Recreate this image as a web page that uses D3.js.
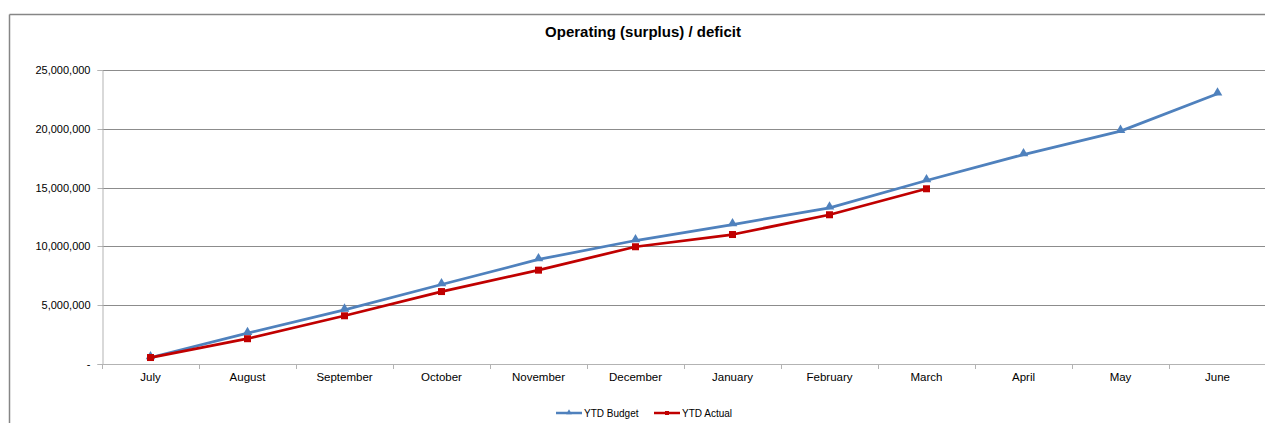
<!DOCTYPE html>
<html><head><meta charset="utf-8">
<script src="https://cdn.jsdelivr.net/npm/d3@7"></script>
<style>body{margin:0;background:#fff;}svg{display:block;font-family:"Liberation Sans",Arial,sans-serif;}</style>
</head><body>
<svg id="c" width="1265" height="423"></svg>
<script>
const months = ["July","August","September","October","November","December","January","February","March","April","May","June"];
const budget = [550000, 2620000, 4600000, 6760000, 8890000, 10500000, 11860000, 13280000, 15600000, 17810000, 19800000, 22980000];
const actual = [550000, 2150000, 4100000, 6160000, 7980000, 9970000, 11010000, 12690000, 14900000];
const yTicks = [0, 5000000, 10000000, 15000000, 20000000, 25000000];
const title = "Operating (surplus) / deficit";
const seriesNames = ["YTD Budget", "YTD Actual"];

const svg = d3.select("#c");
const L = 102, R = 1266, T = 70, B = 364;

// outer frame
svg.append("line").attr("x1",9.5).attr("x2",1265).attr("y1",14.5).attr("y2",14.5).attr("stroke","#868686").attr("stroke-width",1.5);
svg.append("line").attr("x1",9.5).attr("x2",9.5).attr("y1",14.5).attr("y2",423).attr("stroke","#868686").attr("stroke-width",1.5);

const x = d3.scaleBand().domain(months).range([L, R]);
const y = d3.scaleLinear().domain([0, 25000000]).range([B, T]);

// gridlines
svg.append("g").selectAll("line").data(yTicks.filter(d=>d>0)).join("line")
  .attr("x1", L).attr("x2", R).attr("y1", d=>Math.round(y(d))+0.5).attr("y2", d=>Math.round(y(d))+0.5)
  .attr("stroke","#8c8c8c").attr("stroke-width",1);

const fmt = d => d === 0 ? "-" : d3.format(",")(d);
const yAxis = svg.append("g").attr("transform",`translate(${L+0.5},0)`)
  .call(d3.axisLeft(y).tickValues(yTicks).tickFormat(fmt).tickSize(5).tickPadding(7));
yAxis.select(".domain").attr("stroke","#b3b3b3");
yAxis.selectAll(".tick line").attr("stroke","#b3b3b3");
yAxis.selectAll(".tick text").attr("font-size",11).attr("fill","#000").attr("font-family","Liberation Sans, Arial, sans-serif");
yAxis.selectAll(".tick").attr("transform", d=>`translate(0,${Math.round(y(d))+0.5})`);

const xAxis = svg.append("g").attr("transform",`translate(0,${B+0.5})`)
  .call(d3.axisBottom(x).tickSize(0).tickPadding(8));
xAxis.select(".domain").attr("stroke","#b3b3b3").attr("d",`M${L},0H${R}`);
xAxis.selectAll(".tick text").attr("font-size",11.5).attr("fill","#000").attr("font-family","Liberation Sans, Arial, sans-serif");
// category boundary ticks
svg.append("g").selectAll("line").data(months).join("line")
  .attr("x1", d=>Math.round(x(d))+0.5).attr("x2", d=>Math.round(x(d))+0.5)
  .attr("y1", B).attr("y2", B+5).attr("stroke","#b3b3b3");

const cx = d => x(d) + x.bandwidth()/2;
const line = d3.line().x(d=>cx(d.m)).y(d=>y(d.v));
const bData = budget.map((v,i)=>({m:months[i], v}));
const aData = actual.map((v,i)=>({m:months[i], v}));

const blue = "#4F81BD", red = "#C00000";
svg.append("path").datum(bData).attr("d", line).attr("fill","none").attr("stroke",blue).attr("stroke-width",2.75).attr("stroke-linejoin","round");
svg.append("g").selectAll("path").data(bData).join("path")
  .attr("d", d3.symbol().type(d3.symbolTriangle).size(40))
  .attr("transform", d=>`translate(${cx(d.m)},${y(d.v)-1})`).attr("fill",blue);

svg.append("path").datum(aData).attr("d", line).attr("fill","none").attr("stroke",red).attr("stroke-width",2.75).attr("stroke-linejoin","round");
svg.append("g").selectAll("rect").data(aData).join("rect")
  .attr("x", d=>cx(d.m)-3.5).attr("y", d=>y(d.v)-3.5).attr("width",7).attr("height",7).attr("fill",red);

svg.append("text").attr("x",643).attr("y",37).attr("text-anchor","middle")
  .attr("font-size",15).attr("font-weight","bold").text(title);

// legend
const lg = svg.append("g").attr("font-size",10);
const items = [{n:seriesNames[0], c:blue, x0:556, t:"tri"},{n:seriesNames[1], c:red, x0:654, t:"sq"}];
items.forEach(it=>{
  lg.append("line").attr("x1",it.x0).attr("x2",it.x0+26).attr("y1",413).attr("y2",413).attr("stroke",it.c).attr("stroke-width",2.5);
  if(it.t==="tri") lg.append("path").attr("d",d3.symbol().type(d3.symbolTriangle).size(14)).attr("transform",`translate(${it.x0+13},412.5)`).attr("fill",it.c);
  else lg.append("rect").attr("x",it.x0+11).attr("y",411).attr("width",4).attr("height",4).attr("fill",it.c);
  lg.append("text").attr("x",it.x0+28).attr("y",416.5).text(it.n);
});
</script>
</body></html>
